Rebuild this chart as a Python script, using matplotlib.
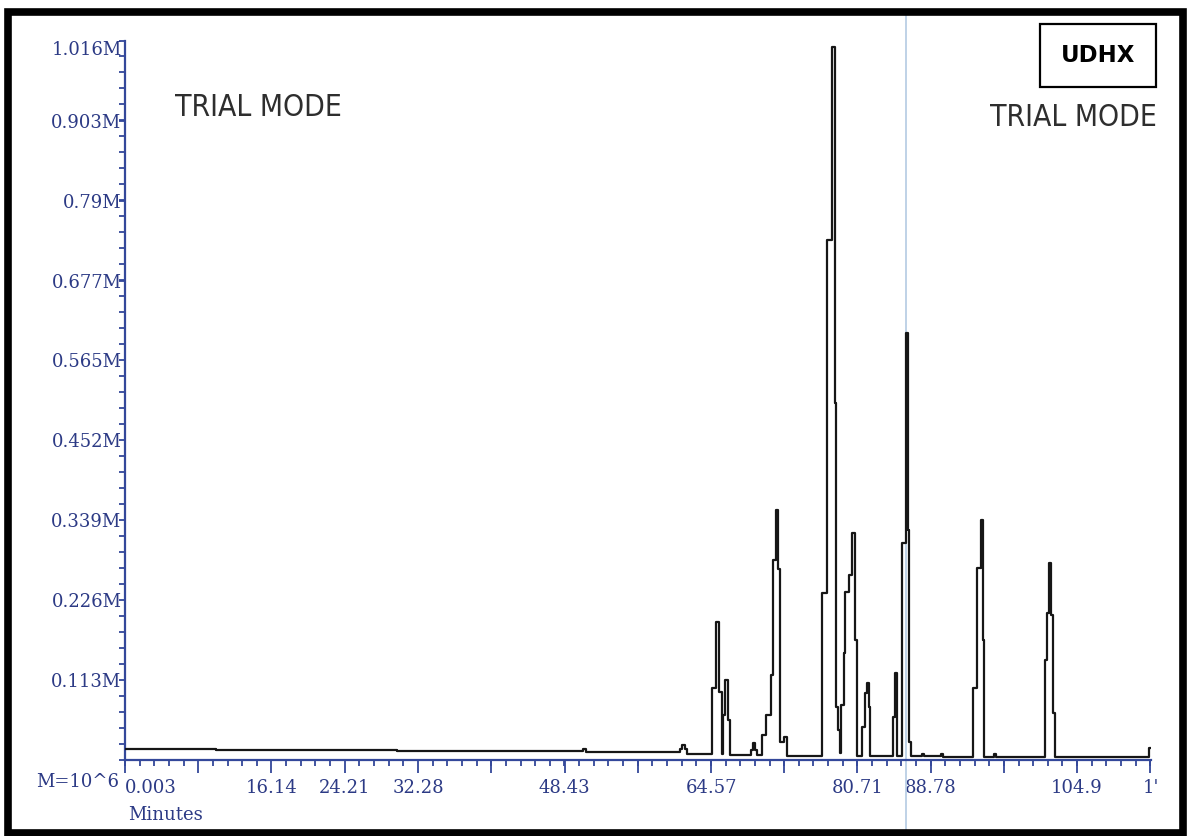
import matplotlib
matplotlib.use("Agg")
import matplotlib.pyplot as plt
from matplotlib.patches import Rectangle
from matplotlib.ticker import FixedLocator, FixedFormatter, MultipleLocator

# retention time (min) where each sample starts, and detector response (M counts) held until the next one
time_min = [0.0, 10.0, 20.0, 30.0, 40.0, 50.5, 50.8, 56.0, 61.2, 61.4, 61.7, 61.9,
            64.68, 65.12, 65.45, 65.79, 65.90, 66.12, 66.45, 66.67,
            69.0, 69.2, 69.45, 69.65,
            70.19, 70.63, 71.18, 71.40, 71.74, 71.96, 72.18, 72.62, 72.95,
            76.80, 77.40, 77.92, 78.26, 78.37, 78.57, 78.75,
            78.86, 79.20, 79.38, 79.78, 80.11, 80.44, 80.66,
            81.21, 81.54, 81.76, 81.98, 82.09,
            84.63, 84.85, 85.07,
            85.62, 86.06, 86.30, 86.39, 86.61,
            87.85, 88.05, 89.95, 90.15,
            93.44, 93.88, 94.32, 94.50, 94.66, 95.80, 95.98,
            101.38, 101.60, 101.82, 102.04, 102.26, 102.48,
            112.84, 113.0]
signal_M = [0.0155, 0.0148, 0.0141, 0.0134, 0.0127, 0.0150, 0.0120, 0.0110, 0.0150, 0.0210, 0.0150, 0.0085,
            0.102, 0.195, 0.096, 0.008, 0.063, 0.113, 0.056, 0.0075,
            0.014, 0.024, 0.014, 0.0075,
            0.035, 0.064, 0.120, 0.282, 0.353, 0.270, 0.025, 0.033, 0.006,
            0.236, 0.734, 1.007, 0.504, 0.075, 0.042, 0.010,
            0.078, 0.151, 0.237, 0.261, 0.321, 0.169, 0.006,
            0.047, 0.095, 0.109, 0.075, 0.006,
            0.061, 0.123, 0.005,
            0.306, 0.603, 0.325, 0.025, 0.005,
            0.009, 0.005, 0.009, 0.004,
            0.102, 0.271, 0.339, 0.169, 0.004, 0.008, 0.004,
            0.141, 0.208, 0.278, 0.205, 0.066, 0.004,
            0.017, 0.017]

y_ticks = [0.113, 0.226, 0.339, 0.452, 0.565, 0.677, 0.79, 0.903, 1.016]
y_tick_labels = ["0.113M", "0.226M", "0.339M", "0.452M", "0.565M",
                 "0.677M", "0.79M", "0.903M", "1.016M"]
x_ticks = [0.003, 8.07, 16.14, 24.21, 32.28, 40.36, 48.43, 56.5,
           64.57, 72.64, 80.71, 88.78, 96.85, 104.9, 112.99]
x_tick_labels = ["0.003", "", "16.14", "24.21", "32.28", "", "48.43", "",
                 "64.57", "", "80.71", "88.78", "", "104.9", "1'"]
cursor_min = 86.06

axis_blue = "#34489a"
text_blue = "#2c3a85"

fig = plt.figure(figsize=(11.94, 8.36), dpi=100)
ax = fig.add_axes([0.1047, 0.0909, 0.8589, 0.8604])

ax.plot(time_min, signal_M, drawstyle="steps-post", color="#161616", lw=1.6, zorder=3)
ax.axvline(cursor_min, ymin=-0.106, ymax=1.036, color="#b4cbe3", lw=1.2,
           clip_on=False, zorder=2)

ax.set_xlim(0, 113.0)
ax.set_ylim(0, 1.016)

for side in ["top", "right"]:
    ax.spines[side].set_visible(False)
for side in ["left", "bottom"]:
    ax.spines[side].set_color(axis_blue)
    ax.spines[side].set_linewidth(1.6)

ax.yaxis.set_major_locator(FixedLocator(y_ticks))
ax.yaxis.set_major_formatter(FixedFormatter(y_tick_labels))
ax.yaxis.set_minor_locator(MultipleLocator(0.113 / 5))
ax.xaxis.set_major_locator(FixedLocator(x_ticks))
ax.xaxis.set_major_formatter(FixedFormatter(x_tick_labels))
ax.xaxis.set_minor_locator(MultipleLocator(8.07 / 5))

ax.tick_params(axis="y", which="both", direction="out", length=4.5, width=1.3,
               color=axis_blue, pad=-2, labelsize=13, labelcolor=text_blue)
ax.tick_params(axis="x", which="major", direction="out", length=9.5, width=1.3,
               color=axis_blue, pad=4, labelsize=13, labelcolor=text_blue)
ax.tick_params(axis="x", which="minor", direction="out", length=4, width=1.3,
               color=axis_blue)

for lab in ax.get_yticklabels() + ax.get_xticklabels():
    lab.set_family("DejaVu Serif")
ax.get_yticklabels()[-1].set_verticalalignment("top")
ax.get_xticklabels()[0].set_horizontalalignment("left")

ax.text(-0.006, -0.031, "M=10^6", transform=ax.transAxes, ha="right", va="center",
        family="DejaVu Serif", fontsize=13, color=text_blue)
ax.text(0.003, -0.077, "Minutes", transform=ax.transAxes, ha="left", va="center",
        family="DejaVu Serif", fontsize=13, color=text_blue)

# watermark text from the acquisition software
fig.text(258 / 1194, 1 - 107 / 836, "TRIAL MODE", ha="center", va="center",
         fontsize=21.5, color="#2e2e2e", fontstretch="condensed")
fig.text(1073 / 1194, 1 - 117 / 836, "TRIAL MODE", ha="center", va="center",
         fontsize=21.5, color="#2e2e2e", fontstretch="condensed")

# sample tag box
fig.patches.append(Rectangle((1040 / 1194, 1 - 87 / 836), 116 / 1194, 63 / 836,
                             transform=fig.transFigure, fill=False,
                             edgecolor="black", lw=1.6))
fig.text(1098 / 1194, 1 - 56 / 836, "UDHX", ha="center", va="center",
         fontsize=16.5, fontweight="bold", color="black")

# outer frame
fig.patches.append(Rectangle((8 / 1194, 1 - 833 / 836), 1175 / 1194, 821 / 836,
                             transform=fig.transFigure, fill=False,
                             edgecolor="black", lw=5.5, zorder=10))

fig.savefig("out.png", dpi=100, facecolor="white")
